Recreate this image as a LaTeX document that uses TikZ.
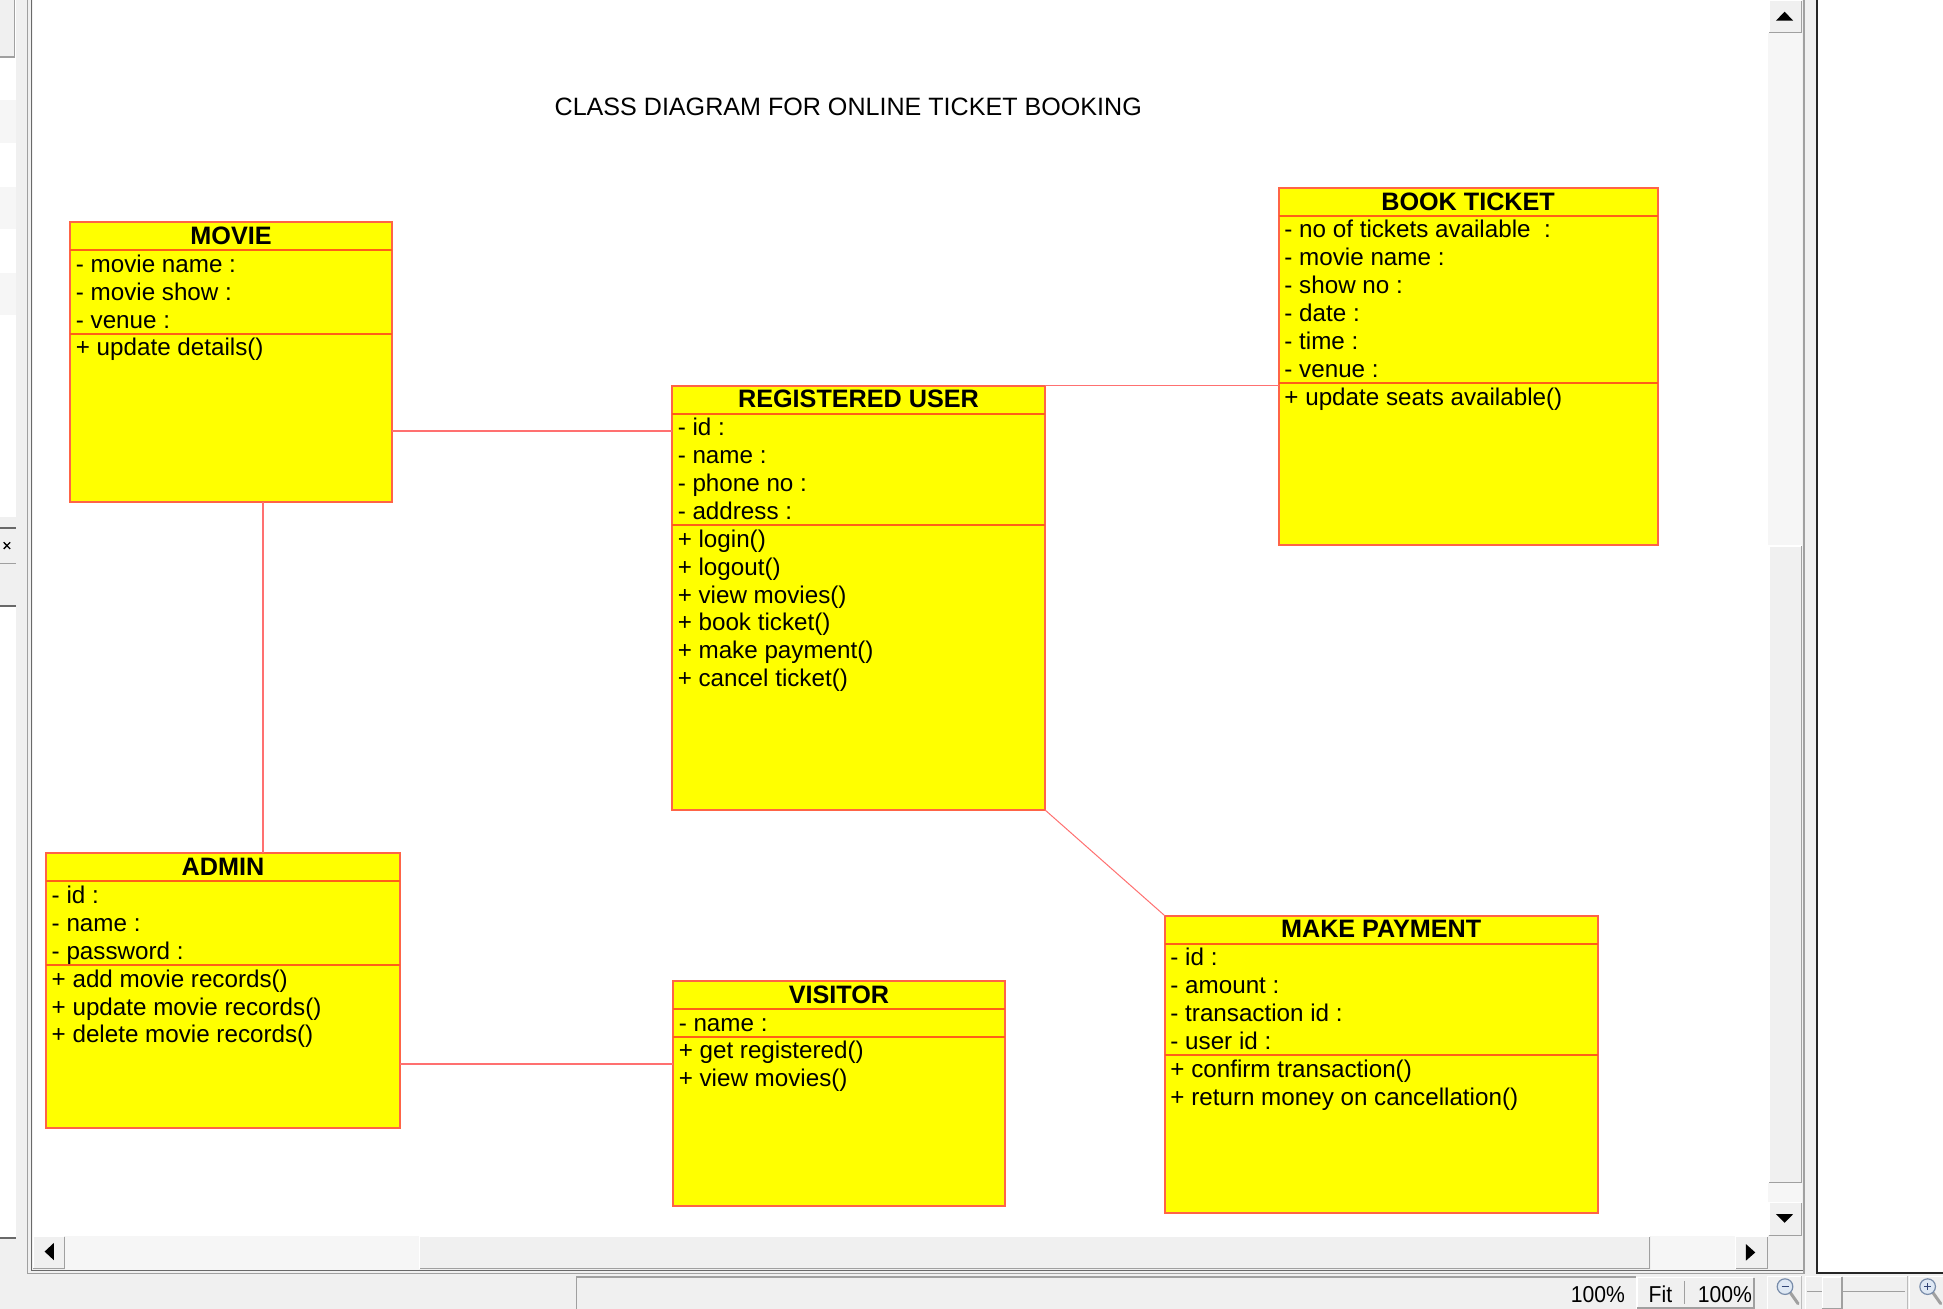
\documentclass[tikz,border=0pt]{standalone}
\usepackage{fontspec}
\setmainfont{Liberation Sans}
\usetikzlibrary{fit}
\definecolor{boxfill}{RGB}{255,255,0}
\definecolor{boxedge}{RGB}{255,100,70}
\definecolor{sepedge}{RGB}{255,96,24}
\definecolor{connred}{RGB}{255,112,112}
\definecolor{uigray}{RGB}{240,240,240}
\definecolor{uitrack}{RGB}{246,246,246}
\definecolor{uimid}{RGB}{160,160,160}
\definecolor{uidark}{RGB}{105,105,105}
\definecolor{uistripe}{RGB}{246,246,246}
\definecolor{glassfill}{RGB}{222,232,244}
\definecolor{glassedge}{RGB}{120,140,170}
\definecolor{glassmark}{RGB}{50,70,120}
\tikzset{
  classbox/.style={draw=boxedge, fill=boxfill, line width=2pt, inner sep=0pt, outer sep=0pt, rectangle},
  sepline/.style={draw=sepedge, line width=2pt},
  conn/.style={draw=connred, line width=1.6pt},
  classtitle/.style={anchor=base, inner sep=0pt, font=\fontsize{25.2}{29}\selectfont\bfseries},
  member/.style={anchor=base west, inner sep=0pt, font=\fontsize{24.2}{28}\selectfont},
  statustext/.style={anchor=base, inner sep=0pt, font=\fontsize{23}{26}\selectfont},
  uibtn/.style={fill=uigray},
}
\newcommand{\umlclass}[9]{%
  \node[classbox, fit={(#2,#3) (#4,#5)}] (#1) {};
  \draw[sepline] ({#2},{#3+22.5}) -- ({#4},{#3+22.5});
  \draw[sepline] ({#2},{#3+22.5+22.5*#9}) -- ({#4},{#3+22.5+22.5*#9});
  \node[classtitle] (#1-title) at ({(#2+#4)/2},{#3+18}) {#6};
  \foreach \mtext [count=\mcnt] in {#7} {
    \node[member] (#1-a\mcnt) at ({#2+4.5},{#3+40.5+22.5*(\mcnt-1)}) {\mtext};
  }
  \foreach \mtext [count=\mcnt] in {#8} {
    \node[member] (#1-o\mcnt) at ({#2+4.5},{#3+40.5+22.5*#9+22.5*(\mcnt-1)}) {\mtext};
  }
}
\newcommand{\uibutton}[4]{%
  \fill[uigray] (#1,#2) rectangle (#3,#4);
  \draw[white, line width=1.2pt] (#1+0.6,#4-0.6) -- (#1+0.6,#2+0.6) -- (#3-0.6,#2+0.6);
  \draw[uimid, line width=1.2pt] (#3-0.6,#2+0.6) -- (#3-0.6,#4-0.6) -- (#1+0.6,#4-0.6);
}
\begin{document}
\begin{tikzpicture}[x=1.2392pt,y=-1.2392pt]
\useasboundingbox (0,0) rectangle (1568,1056.33);
% ---------- window chrome ----------
\fill[uigray] (0,0) rectangle (1568,1056.33);
% left panel
\fill[white] (0,0) rectangle (12.7,999);
\fill[uigray] (0,0) rectangle (11.5,46);
\draw[uimid, line width=1.2pt] (11.5,0) -- (11.5,46) -- (0,46);
\foreach \sy in {81,151,220} {\fill[uistripe] (0,\sy) rectangle (12.7,\sy+34);}
\fill[uigray] (0,417) rectangle (13,489);
\draw[uidark, line width=1.5pt] (0,426) -- (12.7,426);
\draw[uimid, line width=1.2pt] (0,454.5) -- (12.7,454.5);
\draw[uidark, line width=1.5pt] (0,489) -- (12.7,489);
\draw[black, line width=1.3pt] (3,437.6) -- (8.2,443) (3,443) -- (8.2,437.6);
\draw[uidark, line width=1.5pt] (0,999) -- (13,999);
% canvas and borders
\draw[uimid, line width=1.5pt] (22.2,0) -- (22.2,1027.5) -- (1455.8,1027.5) -- (1455.8,0);
\draw[uidark, line width=1.5pt] (25.3,0) -- (25.3,1025.3) -- (1455,1025.3);
\fill[white] (26.3,0) rectangle (1427,997.5);
% right panel
\fill[white] (1467,0) rectangle (1568,1027);
\draw[black!85, line width=1.8pt] (1466.5,0) -- (1466.5,1027) -- (1568,1027);
% vertical scrollbar
\fill[uitrack] (1427,0) rectangle (1454.5,997.5);
\uibutton{1427}{0}{1454.5}{27}
\uibutton{1427}{440}{1454.5}{955}
\uibutton{1427}{970}{1454.5}{997.5}
\fill[black] (1433.2,16.7) -- (1447.1,16.7) -- (1440.15,9.4) -- cycle;
\fill[black] (1433.2,979.7) -- (1447.1,979.7) -- (1440.15,986.8) -- cycle;
% horizontal scrollbar
\fill[uitrack] (26.3,997.5) rectangle (1427,1024.5);
\uibutton{26.3}{997.5}{52.5}{1024.5}
\uibutton{338}{997.5}{1332}{1024.5}
\uibutton{1400}{997.5}{1427}{1024.5}
\fill[uigray] (1427,997.5) rectangle (1454.5,1024.5);
\fill[black] (36,1010) -- (43.5,1003) -- (43.5,1017) -- cycle;
\fill[black] (1416.5,1010.7) -- (1409,1004) -- (1409,1017.3) -- cycle;
% status bar
\draw[uimid, line width=1.2pt] (465,1056.33) -- (465,1030.5) -- (1320,1030.5);
\draw[white, line width=1.2pt] (1321,1056) -- (1321,1031) -- (1415,1031);
\draw[uimid, line width=1.2pt] (1415.5,1031) -- (1415.5,1055.5) -- (1321,1055.5);
\draw[uimid, line width=1pt] (1359.5,1034) -- (1359.5,1052);
\node[statustext] (zoomA) at (1289.5,1051.5) {\scalebox{0.92}[1]{100\%}};
\node[statustext] (fitlbl) at (1340,1051.5) {\scalebox{0.92}[1]{Fit}};
\node[statustext] (zoomB) at (1392,1051.5) {\scalebox{0.92}[1]{100\%}};
\draw[white, line width=1pt] (1426.5,1056.3) -- (1426.5,1030) -- (1454,1030);
\draw[uimid!70, line width=1pt] (1454,1030) -- (1454,1056.3);
\draw[white, line width=1pt] (1457,1056.3) -- (1457,1030) -- (1539,1030);
\draw[uimid!70, line width=1pt] (1539,1030) -- (1539,1056.3);
\draw[white, line width=1pt] (1541,1056.3) -- (1541,1030) -- (1568,1030);
% zoom out icon
\draw[uimid, line width=3pt, line cap=round] (1445,1043.5) -- (1451,1052);
\draw[glassedge, fill=glassfill, line width=1.2pt] (1440.5,1038.3) circle (6.3);
\draw[glassmark, line width=1.4pt] (1437.7,1038.3) -- (1443.3,1038.3);
% slider
\draw[uimid, line width=1.5pt] (1458.3,1042.4) -- (1537.3,1042.4);
\uibutton{1470}{1030}{1487}{1056.3}
% zoom in icon
\draw[uimid, line width=3pt, line cap=round] (1560.1,1043.5) -- (1566.1,1052);
\draw[glassedge, fill=glassfill, line width=1.2pt] (1555.6,1038.3) circle (6.3);
\draw[glassmark, line width=1.4pt] (1552.8,1038.3) -- (1558.4,1038.3) (1555.6,1035.5) -- (1555.6,1041.1);
% ---------- diagram ----------
\node[anchor=base, inner sep=0pt, font=\fontsize{25.1}{29}\selectfont] (title) at (684.5,93.4) {CLASS DIAGRAM FOR ONLINE TICKET BOOKING};
\umlclass{movie}{56.6}{179.2}{316.3}{405.3}{MOVIE}{- movie name :, - movie show :, - venue :}{+ update details()}{3}
\umlclass{bt}{1031.9}{151.5}{1337.6}{439.8}{BOOK TICKET}{- no of tickets available~ :, - movie name :, - show no :, - date :, - time :, - venue :}{+ update seats available()}{6}
\umlclass{ru}{542.3}{311.2}{843.3}{653.6}{REGISTERED USER}{- id :, - name :, - phone no :, - address :}{+ login(), + logout(), + view movies(), + book ticket(), + make payment(), + cancel ticket()}{4}
\umlclass{admin}{37.1}{688.6}{322.8}{910.3}{ADMIN}{- id :, - name :, - password :}{+ add movie records(), + update movie records(), + delete movie records()}{3}
\umlclass{visitor}{543.1}{791.6}{811}{973}{VISITOR}{- name :}{+ get registered(), + view movies()}{1}
\umlclass{mp}{939.9}{738.9}{1289.3}{979.1}{MAKE PAYMENT}{- id :, - amount :, - transaction id :, - user id :}{+ confirm transaction(), + return money on cancellation()}{4}
% connectors
\coordinate (j1) at (430,347.6);
\coordinate (j3) at (212,550);
\coordinate (j4) at (430,858.6);
\draw[conn] (movie.east |- j1) -- (ru.west |- j1);
\draw[conn] (ru.north east) -- (bt.west |- ru.north east);
\draw[conn] (movie.south -| j3) -- (admin.north -| j3);
\draw[conn] (admin.east |- j4) -- (visitor.west |- j4);
\draw[conn, line width=1pt] (ru.south east) -- (mp.north west);
\end{tikzpicture}
\end{document}
